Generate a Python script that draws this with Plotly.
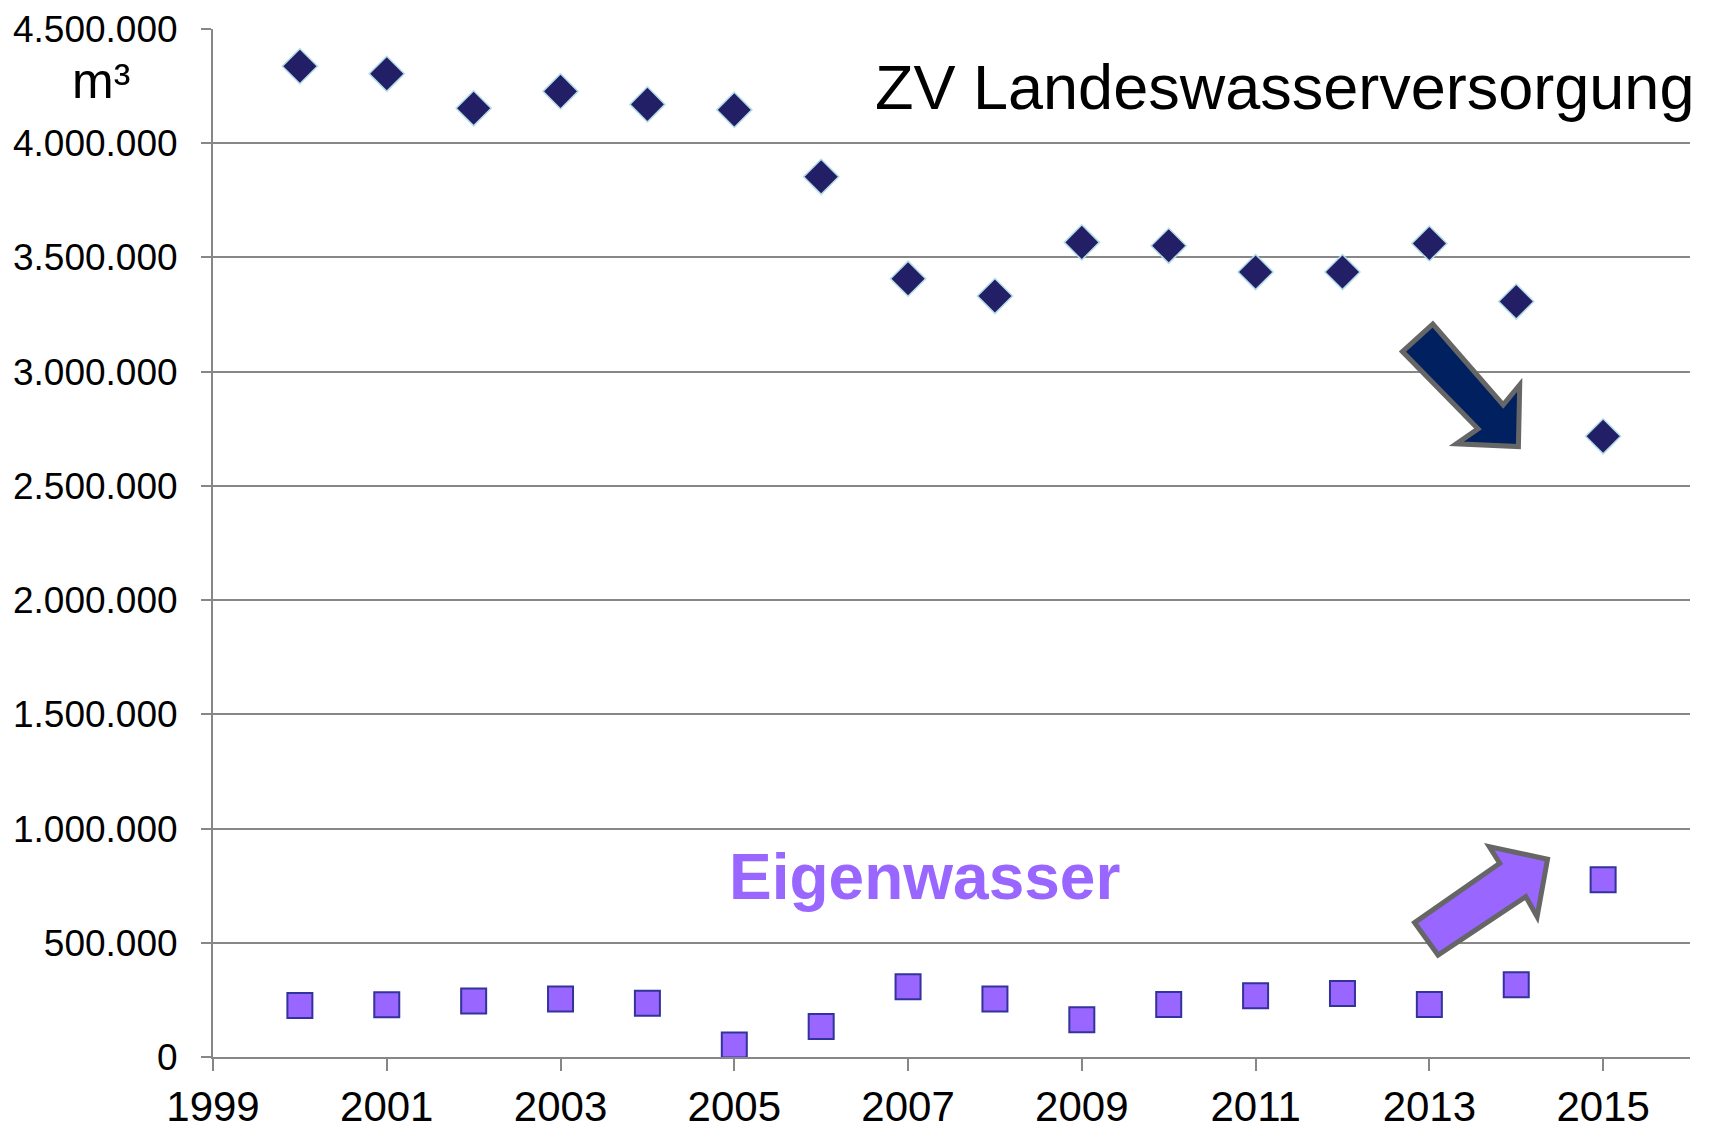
import plotly.graph_objects as go

years = list(range(2000, 2016))

# Bezug ZV Landeswasserversorgung (m³)
lw = [4337000, 4304000, 4153000, 4227000, 4170000, 4146000, 3853000, 3407000,
      3331000, 3566000, 3551000, 3436000, 3436000, 3561000, 3307000, 2717000]

# Eigenwasser (m³)
eigen = [225000, 229000, 245000, 254000, 235000, 53000, 134000, 307000,
         254000, 163000, 230000, 268000, 278000, 230000, 316000, 776000]

# arrow outlines in (year, m³)
arrow_down = [(2012.69, 3088000), (2013.04, 3208000), (2013.85, 2855000),
              (2014.04, 2942000), (2014.025, 2672000), (2013.31, 2684000),
              (2013.56, 2750000)]
arrow_up = [(2012.83, 588000), (2013.81, 848000), (2013.69, 920700),
            (2014.36, 865600), (2014.24, 614300), (2014.11, 701800),
            (2013.10, 446600)]

FONT = "Liberation Sans, Arial, sans-serif"
GRID = "#878787"


def path_of(points):
    return "M " + " L ".join(f"{x},{y}" for x, y in points) + " Z"


fig = go.Figure()

fig.add_trace(go.Scatter(
    x=years, y=lw, mode="markers", name="ZV Landeswasserversorgung",
    marker=dict(symbol="diamond", size=27, color="#221f66",
                line=dict(color="#b3dde6", width=1.5)),
    cliponaxis=False,
))

fig.add_trace(go.Scatter(
    x=years, y=eigen, mode="markers", name="Eigenwasser",
    marker=dict(symbol="square", size=25, color="#9966ff",
                line=dict(color="#33339c", width=2)),
    cliponaxis=False,
))

fig.add_shape(type="path", path=path_of(arrow_down), xref="x", yref="y",
              fillcolor="#002060", line=dict(color="#666666", width=5))
fig.add_shape(type="path", path=path_of(arrow_up), xref="x", yref="y",
              fillcolor="#9966ff", line=dict(color="#666666", width=5))

fig.add_annotation(x=1999, y=4500000, xref="x", yref="y",
                   xshift=-112, yshift=-52, text="m³", showarrow=False,
                   xanchor="center", yanchor="middle",
                   font=dict(family=FONT, size=50, color="black"))
fig.add_annotation(x=0.447, y=0.944, xref="paper", yref="paper",
                   text="ZV Landeswasserversorgung", showarrow=False,
                   xanchor="left", yanchor="middle",
                   font=dict(family=FONT, size=63, color="black"))
fig.add_annotation(x=0.348, y=0.1755, xref="paper", yref="paper",
                   text="<b>Eigenwasser</b>", showarrow=False,
                   xanchor="left", yanchor="middle",
                   font=dict(family=FONT, size=64, color="#9966ff"))

# the page body keeps its default 8px margin, so the figure sits at (8, 8)
fig.update_layout(
    width=1699, height=1121,
    margin=dict(l=205, r=17, t=21, b=72),
    plot_bgcolor="white", paper_bgcolor="white",
    showlegend=False,
    separators=",.",
    font=dict(family=FONT, color="black"),
)

fig.update_xaxes(
    range=[1999, 2016], tick0=1999, dtick=2, automargin=False,
    showgrid=False, zeroline=False,
    showline=True, linecolor=GRID, linewidth=2,
    ticks="outside", ticklen=12, tickwidth=2, tickcolor=GRID,
    tickfont=dict(family=FONT, size=42, color="black"),
    ticklabelstandoff=0,
)
fig.update_yaxes(
    range=[0, 4500000], dtick=500000, tickformat=",d", automargin=False,
    showgrid=True, gridcolor=GRID, gridwidth=2, zeroline=False,
    showline=True, linecolor=GRID, linewidth=2,
    ticks="outside", ticklen=10, tickwidth=2, tickcolor=GRID,
    tickfont=dict(family=FONT, size=37, color="black"),
    ticklabelstandoff=16,
)

fig.write_html("out.html")
